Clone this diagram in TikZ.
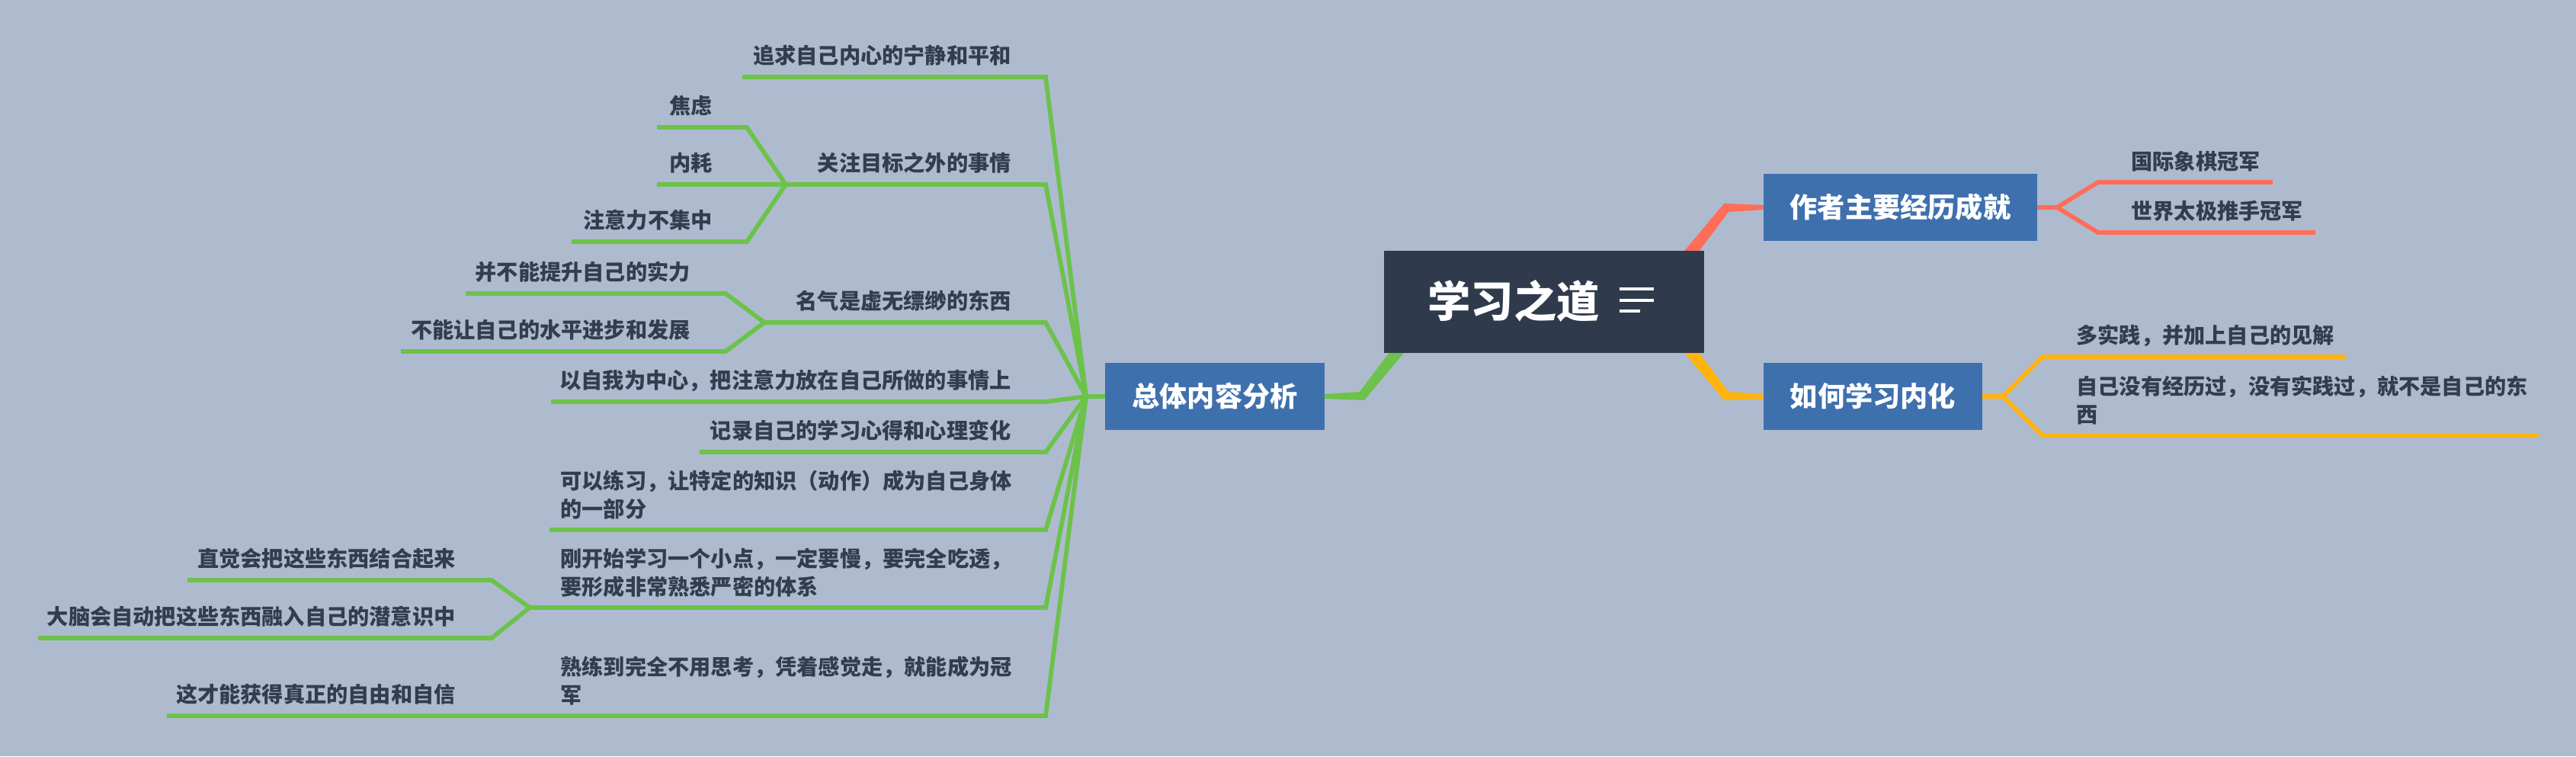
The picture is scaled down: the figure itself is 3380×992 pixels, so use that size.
\documentclass[tikz,border=0pt]{standalone}
\usepackage{fontspec}
\setmainfont{Noto Sans CJK SC}
\definecolor{bgc}{HTML}{AEBBCE}
\definecolor{cdark}{HTML}{2F3B4C}
\definecolor{pblue}{HTML}{3F70AE}
\definecolor{gcol}{HTML}{6CC24A}
\definecolor{rcol}{HTML}{FF6D58}
\definecolor{ycol}{HTML}{FFB30F}
\definecolor{txt}{HTML}{323E4F}
\newcommand\lfont{\fontsize{14.1pt}{18.5pt}\selectfont\bfseries}
\newcommand\pfont{\fontsize{18.1pt}{22pt}\selectfont\bfseries}
\newcommand\cfont{\fontsize{28.2pt}{32pt}\selectfont\bfseries}
\begin{document}
\begin{tikzpicture}[x=0.5pt,y=-0.5pt,
  leaf/.style={inner sep=0pt, text=txt, font=\lfont, align=left},
  prim/.style={fill=pblue, text=white, font=\pfont, inner sep=0pt, minimum height=44pt},
  cbox/.style={fill=cdark, inner sep=0pt, minimum width=210pt, minimum height=67pt},
  ctitle/.style={text=white, font=\cfont, inner sep=0pt},
  gl/.style={draw=gcol, line width=2.9pt},
  rl/.style={draw=rcol, line width=2.9pt},
  yl/.style={draw=ycol, line width=2.9pt},
  icon/.style={draw=white, line width=2pt}]
\path[use as bounding box, fill=bgc] (0,0) rectangle (3380,992);

% trunk connectors (tapered)
\coordinate (rbend) at (2265,272);
\coordinate (ybend) at (2265,520);
\coordinate (gbend) at (1787,520);
\fill[rcol] (2159,390) -- (2262,267) -- (2316,269) -- (2316,275) -- (2268,278) -- (2175,402) -- cycle;
\fill[ycol] (2159,402) -- (2262,525) -- (2316,523) -- (2316,517) -- (2268,514) -- (2175,390) -- cycle;
\fill[gcol] (1893,402) -- (1790,525) -- (1736,523) -- (1736,517) -- (1784,514) -- (1877,390) -- cycle;

% central topic
\node[cbox] (C) at (2026,396) {};
\node[ctitle, anchor=west] (T) at (1873,395) {学习之道};
\draw[icon] (2125,379) -- (2170,379);
\draw[icon] (2125,394) -- (2170,394);
\draw[icon] (2125,408) -- (2152,408);

% main topics
\node[prim, minimum width=179.5pt] (R) at (2493.5,272) {作者主要经历成就};
\node[prim, minimum width=143.5pt] (Y) at (2457.5,520) {如何学习内化};
\node[prim, minimum width=144pt] (G) at (1594,520) {总体内容分析};

% ---------- red branch ----------
\coordinate (RJ) at (2699,272);
\coordinate (r1c) at (2753,239); \coordinate (r1e) at (2982,239);
\coordinate (r2c) at (2753,305); \coordinate (r2e) at (3038,305);
\draw[rl] (R.east) -- (RJ);
\draw[rl] (RJ) -- (r1c) -- (r1e);
\draw[rl] (RJ) -- (r2c) -- (r2e);
\node[leaf, anchor=west] (r1) at (2796,212) {国际象棋冠军};
\node[leaf, anchor=west] (r2) at (2796,277) {世界太极推手冠军};

% ---------- yellow branch ----------
\coordinate (YJ) at (2628,520);
\coordinate (y1c) at (2680,468); \coordinate (y1e) at (3077,468);
\coordinate (y2c) at (2680,571); \coordinate (y2e) at (3331,571);
\draw[yl] (Y.east) -- (YJ);
\draw[yl] (YJ) -- (y1c) -- (y1e);
\draw[yl] (YJ) -- (y2c) -- (y2e);
\node[leaf, anchor=west] (y1) at (2724,440) {多实践，并加上自己的见解};
\node[leaf, anchor=west] (y2) at (2724,525) {自己没有经历过，没有实践过，就不是自己的东\\西};

% ---------- green branch ----------
\coordinate (J) at (1425,520);
\draw[gl] (G.west) -- (J);

\coordinate (a1c) at (1372,101); \coordinate (a1e) at (974,101);
\coordinate (a2c) at (1372,242); \coordinate (a2e) at (1031,242);
\coordinate (a3c) at (1372,423); \coordinate (a3e) at (1003,423);
\coordinate (a4c) at (1372,527); \coordinate (a4e) at (723,527);
\coordinate (a5c) at (1372,593); \coordinate (a5e) at (918,593);
\coordinate (a6c) at (1372,695); \coordinate (a6e) at (721,695);
\coordinate (a7c) at (1372,797); \coordinate (a7e) at (695,797);
\coordinate (a8c) at (1372,939); \coordinate (a8e) at (695,939);

\foreach \k in {1,...,8} { \draw[gl] (J) -- (a\k c) -- (a\k e); }

\coordinate (a2ac) at (980,167); \coordinate (a2ae) at (862,167);
\coordinate (a2be) at (862,242);
\coordinate (a2cc) at (980,317); \coordinate (a2ce) at (750,317);
\draw[gl] (a2e) -- (a2ac) -- (a2ae);
\draw[gl] (a2e) -- (a2be);
\draw[gl] (a2e) -- (a2cc) -- (a2ce);

\coordinate (a3ac) at (952,385); \coordinate (a3ae) at (611,385);
\coordinate (a3bc) at (952,461); \coordinate (a3be) at (526,461);
\draw[gl] (a3e) -- (a3ac) -- (a3ae);
\draw[gl] (a3e) -- (a3bc) -- (a3be);

\coordinate (a7ac) at (645,761); \coordinate (a7ae) at (246,761);
\coordinate (a7bc) at (645,837); \coordinate (a7be) at (50,837);
\draw[gl] (a7e) -- (a7ac) -- (a7ae);
\draw[gl] (a7e) -- (a7bc) -- (a7be);

\coordinate (a8ae) at (219,939);
\draw[gl] (a8e) -- (a8ae);

\node[leaf, anchor=east] (a1) at (1327,73) {追求自己内心的宁静和平和};
\node[leaf, anchor=east] (a2) at (1327,214) {关注目标之外的事情};
\node[leaf, anchor=east] (a2a) at (935,139) {焦虑};
\node[leaf, anchor=east] (a2b) at (935,214) {内耗};
\node[leaf, anchor=east] (a2cn) at (935,289) {注意力不集中};
\node[leaf, anchor=east] (a3) at (1327,395) {名气是虚无缥缈的东西};
\node[leaf, anchor=east] (a3a) at (906,357) {并不能提升自己的实力};
\node[leaf, anchor=east] (a3b) at (906,433) {不能让自己的水平进步和发展};
\node[leaf, anchor=east] (a4) at (1327,499) {以自我为中心，把注意力放在自己所做的事情上};
\node[leaf, anchor=east] (a5) at (1327,565) {记录自己的学习心得和心理变化};
\node[leaf, anchor=east] (a6) at (1328,649) {可以练习，让特定的知识（动作）成为自己身体\\的一部分};
\node[leaf, anchor=east] (a7) at (1328,751) {刚开始学习一个小点，一定要慢，要完全吃透，\\要形成非常熟悉严密的体系};
\node[leaf, anchor=east] (a7a) at (598,733) {直觉会把这些东西结合起来};
\node[leaf, anchor=east] (a7b) at (598,809) {大脑会自动把这些东西融入自己的潜意识中};
\node[leaf, anchor=east] (a8) at (1328,893) {熟练到完全不用思考，凭着感觉走，就能成为冠\\军};
\node[leaf, anchor=east] (a8a) at (598,911) {这才能获得真正的自由和自信};
\end{tikzpicture}
\end{document}
